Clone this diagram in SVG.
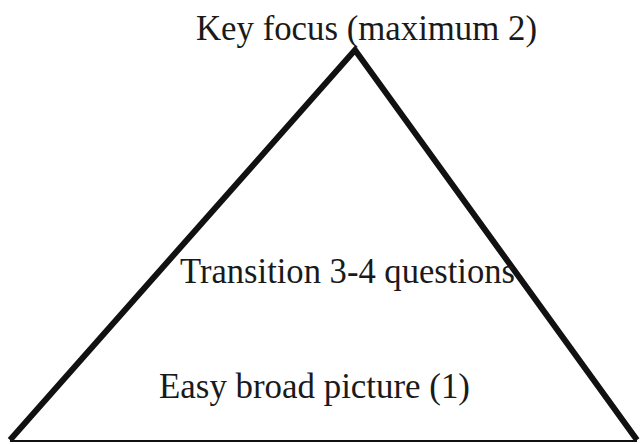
<svg xmlns="http://www.w3.org/2000/svg" width="644" height="444" viewBox="0 0 644 444">
<style>
.t{font-family:"Liberation Serif","Times New Roman",serif;font-size:35px;fill:#1a1a1a}
</style>
<rect width="644" height="444" fill="#fff"/>
<g id="triangle">
<polyline points="10,440 355,50 637,440" fill="none" stroke="#111" stroke-width="6" stroke-linejoin="miter"/>
<line x1="10" y1="441" x2="637" y2="441" stroke="#111" stroke-width="2"/>
</g>
<g id="labels">
<text class="t" x="196" y="40" textLength="341" lengthAdjust="spacingAndGlyphs">Key focus (maximum 2)</text>
<text class="t" x="180" y="283" textLength="335" lengthAdjust="spacingAndGlyphs">Transition 3-4 questions</text>
<text class="t" x="159" y="398" textLength="311" lengthAdjust="spacingAndGlyphs">Easy broad picture (1)</text>
</g>
</svg>
